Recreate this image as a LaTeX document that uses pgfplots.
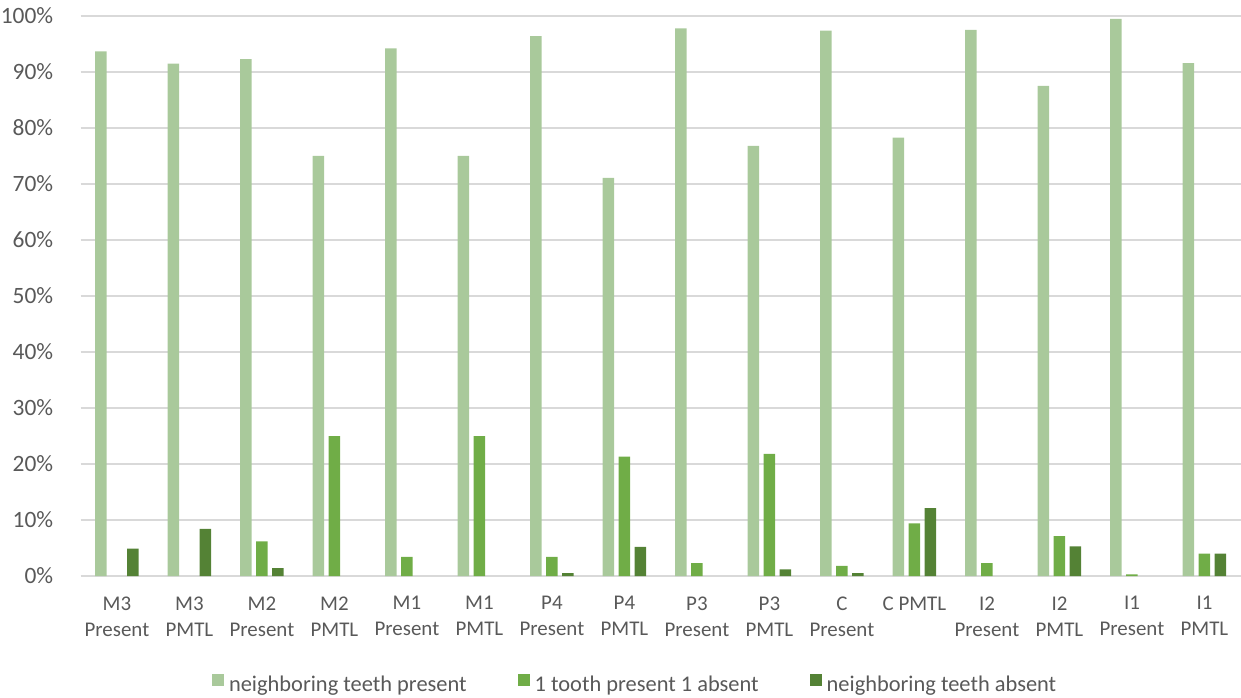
\documentclass[border=0pt]{standalone}
\usepackage{pgfplots}
\pgfplotsset{compat=1.18}
\usepackage{fontspec}
\setmainfont{Carlito}
\definecolor{c1}{HTML}{A9C99B}
\definecolor{c2}{HTML}{70AD47}
\definecolor{c3}{HTML}{548235}
\definecolor{tx}{HTML}{595959}
\definecolor{gr}{HTML}{D9D9D9}
\begin{document}
\begin{tikzpicture}
\begin{axis}[
  at={(0,0)}, anchor=south west,
  scale only axis, width=1160bp, height=560bp,
  xmin=-0.5, xmax=15.5, ymin=0, ymax=100,
  ybar=4.5bp, bar width=11.5bp,
  axis line style={draw=none},
  ytick={0,10,...,100},
  yticklabel={\pgfmathprintnumber{\tick}\%},
  /pgf/number format/assume math mode=true,
  ymajorgrids, xmajorgrids=false, xminorgrids=false,
  grid style={draw=gr, line width=1.2bp},
  major tick length=0pt, minor tick length=0pt, minor tick num=0,
  tick style={draw=none},
  xtick={0,...,15},
  xticklabels={{M3\\Present},{M3\\PMTL},{M2\\Present},{M2\\PMTL},{M1\\Present},{M1\\PMTL},{P4\\Present},{P4\\PMTL},{P3\\Present},{P3\\PMTL},{C\\Present},{C PMTL},{I2\\Present},{I2\\PMTL},{I1\\Present},{I1\\PMTL}},
  xticklabel style={align=center, font=\fontsize{21}{26}\selectfont, text=tx, anchor=north, yshift=-17bp},
  yticklabel style={font=\fontsize{23.5}{25}\selectfont, text=tx, anchor=east, xshift=-24bp},
  legend columns=3,
  legend style={at={(0.478,-0.193)}, anchor=center, draw=none, fill=none,
    font=\fontsize{22.5}{25}\selectfont, text=tx,
    /tikz/every even column/.append style={column sep=49bp}},
  legend image code/.code={\fill[#1] (0bp,-1.5bp) rectangle (12bp,10.5bp); \path (15bp,0bp);},
]
\addplot[fill=c1, draw=none] coordinates {(0,93.7) (1,91.5) (2,92.3) (3,75.0) (4,94.2) (5,75.0) (6,96.4) (7,71.1) (8,97.8) (9,76.8) (10,97.4) (11,78.3) (12,97.5) (13,87.5) (14,99.5) (15,91.6)};
\addplot[fill=c2, draw=none] coordinates {(2,6.2) (3,25.0) (4,3.4) (5,25.0) (6,3.4) (7,21.3) (8,2.3) (9,21.8) (10,1.8) (11,9.4) (12,2.3) (13,7.1) (14,0.3) (15,4.0)};
\addplot[fill=c3, draw=none] coordinates {(0,4.9) (1,8.4) (2,1.4) (6,0.5) (7,5.2) (9,1.2) (10,0.5) (11,12.1) (13,5.3) (15,4.0)};
\legend{neighboring teeth present,1 tooth present 1 absent,neighboring teeth absent}
\end{axis}
\pgfresetboundingbox
\path[use as bounding box] (-80.7bp,-122bp) rectangle (1160.3bp,576bp);
\end{tikzpicture}
\end{document}
